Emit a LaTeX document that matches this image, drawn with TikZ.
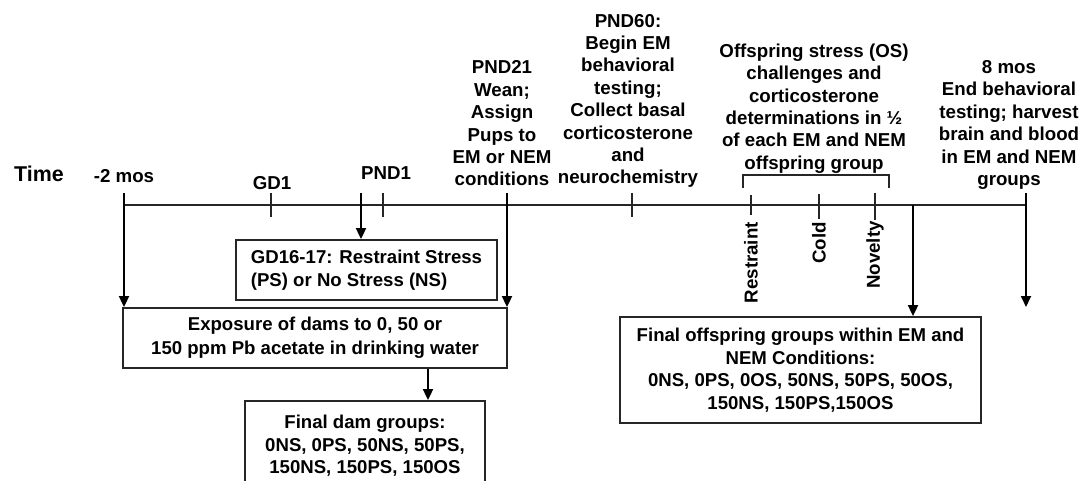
\documentclass[tikz,border=0pt]{standalone}
\usepackage{fontspec}
\setmainfont{Liberation Sans}
\usetikzlibrary{arrows.meta}
\tikzset{
  txt/.style={font=\bfseries\fontsize{18.7}{22.4}\selectfont, align=center, inner sep=0pt, text=black},
  bigtxt/.style={font=\bfseries\fontsize{21.4}{25}\selectfont, inner sep=0pt, text=black},
  box/.style={draw=black!85, line width=1.8pt, inner sep=0pt, align=center,
    font=\bfseries\fontsize{18.6}{22.6}\selectfont},
  arr/.style={draw=black, line width=1.8pt, -{Triangle[width=10pt,length=11pt]}},
  tl/.style={draw=black!85, line width=1.5pt},
}
\begin{document}
\begin{tikzpicture}[x=1pt,y=-1pt]
\clip (0,0) rectangle (1081,481);
\fill[white] (0,0) rectangle (1081,481);

% top labels
\node[bigtxt] (time) at (39,174) {Time};
\node[txt] (m2) at (124,176) {-2 mos};
\node[txt] (gd1) at (272,183) {GD1};
\node[txt] (pnd1) at (386,173) {PND1};
\node[txt] (pnd21) at (502,123.5) {PND21\\Wean;\\Assign\\Pups to\\EM or NEM\\conditions};
\node[txt] (pnd60) at (628,101) {PND60:\\Begin EM\\behavioral\\testing;\\Collect basal\\corticosterone\\and\\neurochemistry};
\node[txt] (os) at (814,108.5) {Offspring stress (OS)\\challenges and\\corticosterone\\determinations in ½\\of each EM and NEM\\offspring group};
\node[txt] (m8) at (1009,125) {8 mos\\End behavioral\\testing; harvest\\brain and blood\\in EM and NEM\\groups};

% timeline
\coordinate (L) at (124,205);
\coordinate (R) at (1026,205);
\draw[tl] (L) -- (R);
\foreach \x/\a/\b in {271/193/217, 383/193/217, 632/193/217, 751/195/215, 819/194/219, 875/193/220}
  \draw[tl] (\x,\a) -- (\x,\b);

% bracket
\draw[tl] (743,188) -- (743,175) -- (889,175) -- (889,188);

% rotated stress labels
\node[txt, rotate=90, anchor=east] (rst) at (751,222) {Restraint};
\node[txt, rotate=90, anchor=east] (cold) at (819,222) {Cold};
\node[txt, rotate=90, anchor=east] (nov) at (875,221) {Novelty};

% boxes
\node[box, align=left, minimum width=261pt, minimum height=60pt] (gd16) at (366.5,270)
  {GD16-17: Restraint Stress\\[1pt](PS) or No Stress (NS)};
\node[box, minimum width=384pt, minimum height=60pt] (expo) at (315,338)
  {Exposure of dams to 0, 50 or\\[1pt]150 ppm Pb acetate in drinking water};
\node[box, minimum width=240pt, minimum height=90pt] (dam) at (365,446)
  {Final dam groups:\\0NS, 0PS, 50NS, 50PS,\\150NS, 150PS, 150OS};
\node[box, minimum width=361pt, minimum height=106pt] (off) at (800.5,370)
  {Final offspring groups within EM and\\NEM Conditions:\\0NS, 0PS, 0OS, 50NS, 50PS, 50OS,\\150NS, 150PS,150OS};

% arrows
\coordinate (a0) at (124,193);
\draw[arr] (a0) -- (a0 |- expo.north);
\coordinate (a1) at (361,193);
\draw[arr] (a1) -- (a1 |- gd16.north);
\coordinate (a21) at (507,193);
\draw[arr] (a21) -- (a21 |- expo.north);
\coordinate (e1) at (428,368);
\draw[arr] (e1 |- expo.south) -- (e1 |- dam.north);
\coordinate (a4) at (913,205);
\draw[arr] (a4) -- (a4 |- off.north);
\coordinate (a8) at (1026,193);
\coordinate (a8e) at (1026,307);
\draw[arr] (a8) -- (a8e);
\end{tikzpicture}
\end{document}
